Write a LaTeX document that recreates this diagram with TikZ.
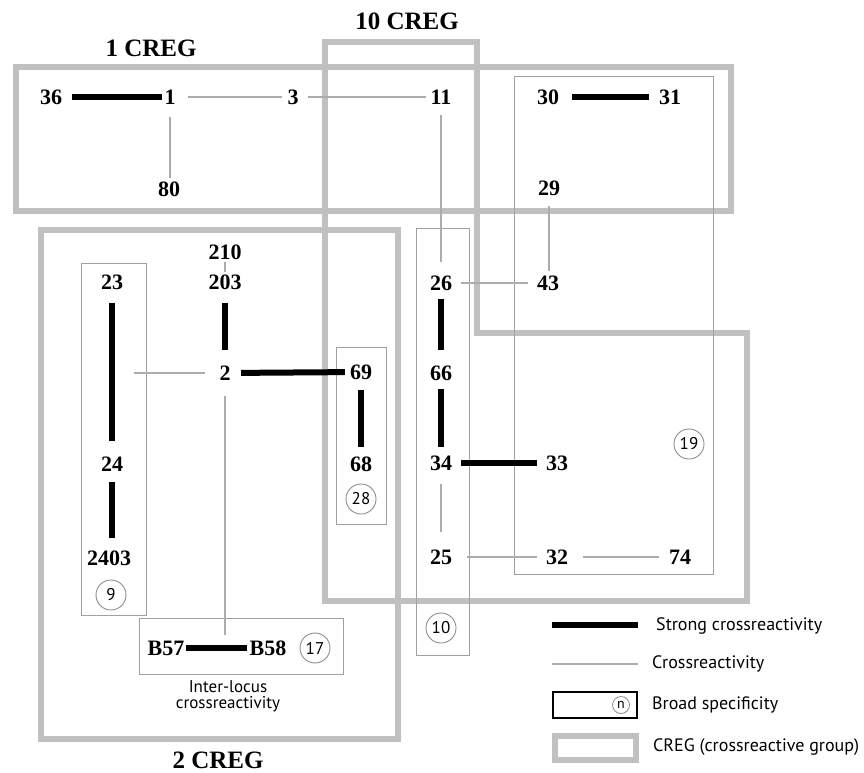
\documentclass[tikz,border=0pt]{standalone}
\usepackage{fontspec}
\setmainfont{Liberation Serif}
\newfontfamily\legfont{PT Sans}
\definecolor{cregc}{RGB}{192,192,192}
\definecolor{weakc}{RGB}{172,172,172}
\definecolor{thinc}{RGB}{160,160,160}
\definecolor{circc}{RGB}{140,140,140}
\tikzset{
  num/.style={font=\bfseries\fontsize{22}{24}\selectfont, inner sep=0pt},
  title/.style={font=\bfseries\fontsize{25}{28}\selectfont, inner sep=0pt},
  strong/.style={line width=6pt, black},
  weak/.style={line width=2pt, weakc},
  creg/.style={line width=6pt, cregc},
  broad/.style={line width=1pt, thinc},
  circ/.style={circle, draw=circc, line width=0.9pt, minimum size=30pt, inner sep=0pt, font=\legfont\fontsize{17}{18}\selectfont},
  leg/.style={font=\legfont\fontsize{18}{20}\selectfont, anchor=west, inner sep=0pt},
}
\begin{document}
\begin{tikzpicture}[x=1pt,y=-1pt]
\useasboundingbox (0,0) rectangle (864,773);
% CREG boxes
\draw[creg] (16,67) rectangle (731,211);
\draw[creg] (325,42) -- (477,42) -- (477,333) -- (747,333) -- (747,601) -- (325,601) -- cycle;
\draw[creg] (41,230) rectangle (398,739);
% broad specificity boxes
\draw[broad] (81,263) rectangle (146,615);
\draw[broad] (336,347) rectangle (386,524);
\draw[broad] (416,228) rectangle (469,655);
\draw[broad] (514,77) rectangle (713,574);
\draw[broad] (139,618) rectangle (343,674);
% titles
\node[title] (t1) at (151,48) {1 CREG};
\node[title] (t10) at (407,21) {10 CREG};
\node[title] (t2) at (218,760) {2 CREG};
% nodes
\node[num] (n36) at (51,97) {36};
\node[num] (n1) at (170,97) {1};
\node[num] (n3) at (293,97) {3};
\node[num] (n11) at (441,97) {11};
\node[num] (n80) at (169,189) {80};
\node[num] (n30) at (548,97) {30};
\node[num] (n31) at (670,97) {31};
\node[num] (n29) at (549,188) {29};
\node[num] (n43) at (548,283) {43};
\node[num] (n26) at (441,283) {26};
\node[num] (n66) at (441,373) {66};
\node[num] (n34) at (441,463) {34};
\node[num] (n33) at (557,463) {33};
\node[num] (n25) at (441,557) {25};
\node[num] (n32) at (557,557) {32};
\node[num] (n74) at (680,557) {74};
\node[num] (n210) at (225,252) {210};
\node[num] (n203) at (225,282) {203};
\node[num] (n23) at (112,282) {23};
\node[num] (n2) at (225,373) {2};
\node[num] (n69) at (361,372) {69};
\node[num] (n24) at (112,464) {24};
\node[num] (n68) at (361,464) {68};
\node[num] (n2403) at (109,558) {2403};
\node[num] (nB57) at (166,648) {B57};
\node[num] (nB58) at (268,648) {B58};
% circled counts
\node[circ] (c19) at (689,444) {19};
\node[circ] (c10) at (441,628) {10};
\node[circ] (c28) at (361,499) {28};
\node[circ] (c9) at (111,595) {9};
\node[circ] (c17) at (315,648) {17};
\node[font=\legfont\fontsize{17}{16}\selectfont, align=center, inner sep=0pt] (inter) at (228,696) {Inter-locus\\crossreactivity};
% free ends
\coordinate (e2l) at (134,373);
\coordinate (e2d) at (225,635);
% strong edges
\draw[strong, shorten <=10pt, shorten >=2.5pt] (n36) -- (n1);
\draw[strong, shorten <=13pt, shorten >=10pt] (n30) -- (n31);
\draw[strong, shorten <=13.5pt, shorten >=15.5pt] (n203) -- (n2);
\draw[strong, shorten <=10.5pt, shorten >=5pt] (n2) -- (n69);
\draw[strong, shorten <=13.5pt, shorten >=15.5pt] (n23) -- (n24);
\draw[strong, shorten <=10.5pt, shorten >=12.5pt] (n24) -- (n24 |- n2403.north);
\draw[strong, shorten <=10.5pt, shorten >=9.5pt] (n69) -- (n68);
\draw[strong, shorten <=8.5pt, shorten >=15.5pt] (n26) -- (n66);
\draw[strong, shorten <=8.5pt, shorten >=8.5pt] (n66) -- (n34);
\draw[strong, shorten <=9pt, shorten >=9pt] (n34) -- (n33);
\draw[strong, shorten <=1.5pt, shorten >=2.5pt] (nB57) -- (nB58);
% weak edges
\draw[weak, shorten <=12.5pt, shorten >=5.5pt] (n1) -- (n3);
\draw[weak, shorten <=9.5pt, shorten >=4pt] (n3) -- (n11);
\draw[weak, shorten <=12.5pt, shorten >=11.5pt] (n1) -- (n1 |- n80);
\draw[weak, shorten <=10.5pt, shorten >=21.5pt] (n11) -- (n11 |- n26);
\draw[weak, shorten <=10.5pt, shorten >=12.5pt] (n29) -- (n29 |- n43);
\draw[weak, shorten <=9pt, shorten >=9pt] (n26) -- (n43);
\draw[weak, line width=1.2pt, shorten <=2.5pt, shorten >=2.5pt] (n210) -- (n203);
\draw[weak, shorten <=14.5pt] (n2) -- (e2l);
\draw[weak, shorten <=15.5pt] (n2) -- (e2d);
\draw[weak, shorten <=13.5pt, shorten >=17.5pt] (n34) -- (n25);
\draw[weak, shorten <=15pt, shorten >=9pt] (n25) -- (n32);
\draw[weak, shorten <=15pt, shorten >=10pt] (n32) -- (n74);
% legend
\coordinate (ls1) at (552,625); \coordinate (ls2) at (638,625);
\coordinate (lw1) at (552,664); \coordinate (lw2) at (638,664);
\draw[strong] (ls1) -- (ls2);
\draw[weak] (lw1) -- (lw2);
\draw[black, line width=2.5pt] (553,692) rectangle (637,718);
\node[circle, draw=circc, line width=0.8pt, minimum size=17pt, inner sep=0pt, font=\legfont\fontsize{14}{16}\selectfont] (ln) at (621,705) {n};
\draw[creg] (555,736) rectangle (636,760);
\node[leg] (l1) at (656,626) {Strong crossreactivity};
\node[leg] (l2) at (652,664) {Crossreactivity};
\node[leg] (l3) at (652,705) {Broad specificity};
\node[leg] (l4) at (653,747) {CREG (crossreactive group)};
\end{tikzpicture}
\end{document}
